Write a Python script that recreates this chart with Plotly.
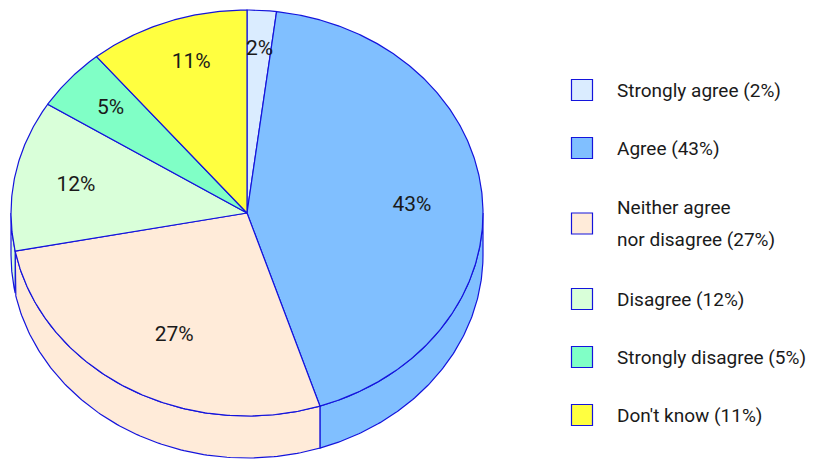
import numpy as np
import plotly.graph_objects as go

# ---- data ----
categories = ["Strongly agree", "Agree", "Neither agree<br>nor disagree",
              "Disagree", "Strongly disagree", "Don't know"]
values = [2, 43, 27, 12, 5, 11]
colors = ["#DAECFF", "#80BFFF", "#FFEBD9", "#D9FFD9", "#80FFC6", "#FFFF40"]

# ---- layout / style constants ----
W, H = 813, 460
CX, CY, RX, RY, DEPTH = 247, 213, 236, 203, 42
label_r = [0.805, 0.70, 0.68, 0.737, 0.772, 0.778]      # label distance (fraction of radius)
label_dtheta = [0.2, 2.6, -3.6, -0.4, 0.1, 2.1]          # label angle nudge (degrees)
EDGE = "#1414DC"
FONT = "Roboto, sans-serif"

def pt(theta_deg, r=1.0, dy=0.0):
    t = np.radians(theta_deg)
    return CX + RX * r * np.sin(t), CY - RY * r * np.cos(t) + dy

fig = go.Figure()

total = float(sum(values))
bounds = np.concatenate([[0], np.cumsum(values)]) / total * 360.0

# side walls (visible for angles between 90 and 270 degrees)
for i, v in enumerate(values):
    a, b = bounds[i], bounds[i + 1]
    lo, hi = max(a, 90.0), min(b, 270.0)
    if hi <= lo:
        continue
    ts = np.linspace(lo, hi, 120)
    xs_top, ys_top = pt(ts)
    xs_bot, ys_bot = pt(ts[::-1], dy=DEPTH)
    xs = np.concatenate([xs_top, xs_bot, xs_top[:1]])
    ys = np.concatenate([ys_top, ys_bot, ys_top[:1]])
    fig.add_trace(go.Scatter(x=xs, y=ys, mode="lines", fill="toself",
                             fillcolor=colors[i], line=dict(color=EDGE, width=1.2),
                             hoverinfo="skip", showlegend=False))

# top face
for i, v in enumerate(values):
    a, b = bounds[i], bounds[i + 1]
    ts = np.linspace(a, b, max(8, int((b - a) * 2)))
    xa, ya = pt(ts)
    xs = np.concatenate([[CX], xa, [CX]])
    ys = np.concatenate([[CY], ya, [CY]])
    fig.add_trace(go.Scatter(x=xs, y=ys, mode="lines", fill="toself",
                             fillcolor=colors[i], line=dict(color=EDGE, width=1.2),
                             hoverinfo="skip", showlegend=False))

# slice labels
lx, ly, lt = [], [], []
for i, v in enumerate(values):
    mid = (bounds[i] + bounds[i + 1]) / 2 + label_dtheta[i]
    x, y = pt(mid, r=label_r[i])
    lx.append(x); ly.append(y); lt.append(f"{v}%")
fig.add_trace(go.Scatter(x=lx, y=ly, mode="text", text=lt,
                         textfont=dict(family=FONT, size=21, color="#1a1a1a"),
                         hoverinfo="skip", showlegend=False))

# custom legend
LEG_BOX_X, LEG_TEXT_X, LEG_TOP, ITEM_H, LINE_H = 582, 615, 61, 58, 35
annotations = []
y_cursor = LEG_TOP
for i, (c, v) in enumerate(zip(categories, values)):
    lines = f"{c} ({v}%)".split("<br>")
    h = ITEM_H + LINE_H * (len(lines) - 1)
    yc = y_cursor + h / 2
    fig.add_trace(go.Scatter(x=[LEG_BOX_X], y=[yc], mode="markers",
                             marker=dict(symbol="square", size=21, color=colors[i],
                                         line=dict(color=EDGE, width=1.2)),
                             hoverinfo="skip", showlegend=False))
    n = len(lines)
    for k, ln in enumerate(lines):
        annotations.append(dict(x=LEG_TEXT_X, y=yc + (k - (n - 1) / 2) * 32,
                                xref="x", yref="y", text=ln, showarrow=False,
                                xanchor="left", yanchor="middle",
                                font=dict(family=FONT, size=19, color="#1a1a1a")))
    y_cursor += h

fig.update_layout(
    width=W, height=H,
    margin=dict(l=0, r=0, t=0, b=0),
    paper_bgcolor="white", plot_bgcolor="white",
    xaxis=dict(range=[0, W], visible=False, fixedrange=True),
    yaxis=dict(range=[H, 0], visible=False, fixedrange=True),
    annotations=annotations,
    showlegend=False,
)

fig.write_html("out.html", config={"displayModeBar": False},
               post_script="document.body.style.margin='0';document.body.style.overflow='hidden';")
